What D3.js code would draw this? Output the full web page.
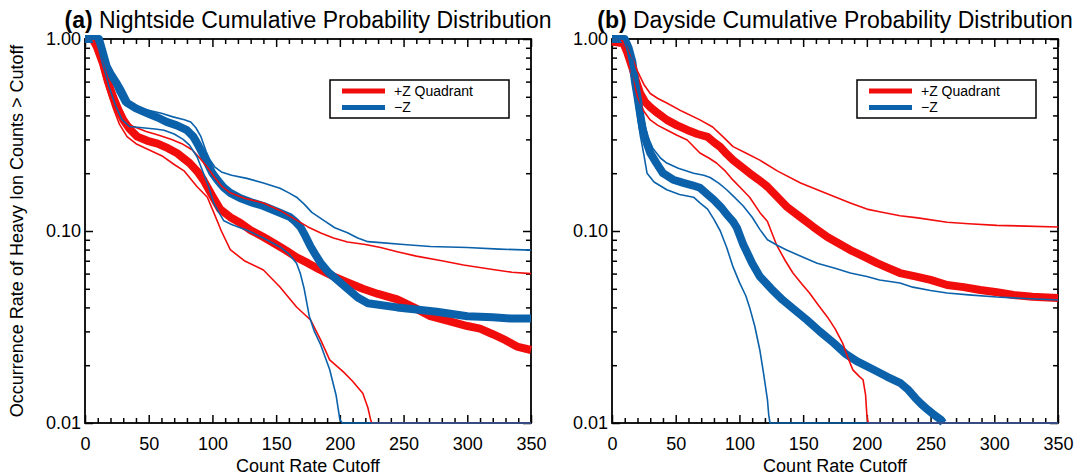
<!DOCTYPE html>
<html>
<head>
<meta charset="utf-8">
<script src="https://cdn.jsdelivr.net/npm/d3@7"></script>
<style>
  body { margin: 0; background: #fff; }
  svg { font-family: "Liberation Sans", Arial, Helvetica, sans-serif; }
  .tick line { stroke: #000; stroke-width: 1.5; }
  .frame { fill: none; stroke: #000; stroke-width: 1.8; }
  .series { fill: none; stroke-linejoin: round; stroke-linecap: butt; }
</style>
</head>
<body>
<svg class="chart"></svg>
<script>

// ---- data: [count rate cutoff, occurrence rate] ----
var countTicks = [0, 50, 100, 150, 200, 250, 300, 350];
var rateTicks = [0.01, 0.1, 1];
var legendLabels = ["+Z Quadrant", "\u2212Z"];

// (a) nightside, +Z quadrant
var nightPlusMid = [[0,1.0],[6,1.0],[9,0.92],[14,0.75],[18,0.6],[22,0.50],[26,0.43],[30,0.38],[35,0.34],[41,0.31],[49,0.295],[57,0.285],[65,0.27],[72,0.255],[77,0.24],[82,0.226],[88,0.205],[93,0.184],[100,0.152],[106,0.13],[114,0.118],[122,0.11],[130,0.101],[140,0.093],[150,0.085],[158,0.079],[166,0.073],[175,0.068],[184,0.063],[195,0.058],[206,0.054],[218,0.050],[230,0.047],[245,0.044],[258,0.040],[271,0.036],[285,0.034],[300,0.032],[310,0.031],[320,0.029],[330,0.027],[339,0.025],[350,0.024]];
var nightPlusHigh = [[0,1.0],[7,1.0],[10,0.9],[14,0.75],[18,0.62],[22,0.52],[26,0.44],[30,0.38],[38,0.35],[48,0.33],[58,0.315],[68,0.30],[76,0.285],[84,0.265],[90,0.24],[96,0.215],[101,0.193],[107,0.172],[114,0.158],[125,0.148],[140,0.14],[153,0.128],[166,0.114],[175,0.105],[185,0.0977],[195,0.092],[206,0.0877],[220,0.085],[232,0.082],[245,0.078],[260,0.074],[280,0.07],[297,0.0665],[320,0.063],[335,0.061],[350,0.06]];
var nightPlusLow = [[0,1.0],[6,1.0],[9,0.88],[13,0.7],[17,0.56],[22,0.44],[27,0.36],[33,0.31],[40,0.285],[50,0.265],[61,0.245],[70,0.222],[78,0.205],[88,0.17],[96,0.15],[101,0.125],[107,0.1],[114,0.08],[125,0.07],[140,0.0626],[153,0.0511],[166,0.0402],[177,0.0344],[185,0.027],[192,0.0213],[203,0.0184],[210,0.0165],[218,0.0143],[222,0.012],[224,0.0105],[225,0.01],[350,0.01]];

// (a) nightside, -Z quadrant
var nightMinusMid = [[0,1.0],[11,1.0],[14,0.85],[17,0.72],[20,0.66],[24,0.6],[28,0.54],[33,0.465],[40,0.435],[49,0.41],[57,0.39],[64,0.37],[72,0.355],[80,0.335],[85,0.31],[88,0.287],[92,0.255],[96,0.226],[100,0.2],[104,0.184],[109,0.168],[114,0.158],[122,0.148],[132,0.14],[140,0.135],[151,0.126],[161,0.118],[165,0.112],[169,0.105],[173,0.094],[177,0.083],[181,0.075],[185,0.068],[191,0.061],[198,0.0556],[206,0.05],[214,0.045],[222,0.042],[245,0.040],[260,0.039],[276,0.038],[300,0.036],[320,0.0355],[334,0.035],[350,0.035]];
var nightMinusHigh = [[0,1.0],[9,1.0],[12,0.9],[16,0.76],[20,0.65],[25,0.53],[30,0.46],[40,0.44],[49,0.427],[60,0.41],[69,0.393],[78,0.38],[83,0.37],[87,0.345],[91,0.31],[95,0.26],[98,0.235],[102,0.215],[107,0.203],[115,0.195],[127,0.188],[140,0.178],[153,0.167],[160,0.158],[166,0.15],[172,0.138],[178,0.125],[187,0.114],[196,0.104],[206,0.098],[214,0.092],[222,0.088],[232,0.087],[250,0.085],[271,0.083],[300,0.082],[325,0.0805],[350,0.0795]];
var nightMinusLow = [[0,1.0],[8,1.0],[11,0.88],[15,0.7],[19,0.56],[24,0.45],[29,0.38],[35,0.35],[45,0.345],[55,0.34],[62,0.335],[70,0.32],[77,0.3],[82,0.28],[88,0.243],[93,0.2],[97,0.17],[101,0.14],[105,0.125],[109,0.113],[115,0.108],[127,0.101],[140,0.092],[153,0.0826],[160,0.076],[166,0.068],[169,0.06],[172,0.05],[176,0.036],[180,0.03],[185,0.0255],[192,0.019],[197,0.014],[200,0.0104],[202,0.01],[350,0.01]];

// (b) dayside, +Z quadrant
var dayPlusMid = [[0,0.97],[9,0.95],[12,0.85],[16.5,0.69],[19,0.6],[22,0.523],[26,0.47],[30,0.442],[36,0.41],[43,0.379],[51,0.355],[59,0.336],[67,0.32],[75,0.309],[80,0.29],[85,0.274],[90,0.252],[95,0.234],[102,0.215],[108,0.2],[115,0.185],[122,0.17],[130,0.15],[137,0.134],[148,0.118],[158,0.105],[169,0.093],[178,0.086],[187,0.0796],[197,0.074],[208,0.068],[217,0.064],[226,0.0604],[238,0.058],[250,0.0556],[263,0.0523],[276,0.051],[289,0.0493],[302,0.048],[315,0.0464],[330,0.0455],[350,0.0448]];
var dayPlusHigh = [[0,1.0],[8,1.0],[12,0.9],[16.5,0.78],[20,0.68],[25,0.58],[30,0.52],[36,0.49],[43,0.464],[55,0.42],[69,0.379],[79,0.348],[87,0.31],[95,0.275],[105,0.255],[116,0.234],[130,0.205],[148,0.178],[165,0.16],[187,0.14],[200,0.13],[210,0.126],[226,0.12],[240,0.117],[263,0.111],[280,0.109],[302,0.107],[325,0.106],[350,0.105]];
var dayPlusLow = [[0,1.0],[7,1.0],[10,0.92],[13,0.75],[17,0.6],[20,0.5],[25,0.42],[30,0.379],[36,0.355],[43,0.336],[51,0.315],[59,0.298],[69,0.255],[76,0.24],[82,0.226],[89,0.205],[95,0.184],[102,0.165],[108,0.15],[116,0.125],[122,0.112],[129,0.085],[136,0.07],[142,0.0604],[149,0.053],[155,0.0475],[162,0.041],[169,0.0357],[175,0.031],[181,0.0261],[185,0.022],[189,0.0189],[194,0.0175],[197,0.0168],[199,0.014],[200,0.011],[201,0.01],[350,0.01]];

// (b) dayside, -Z quadrant
var dayMinusMid = [[0,1.0],[10,1.0],[13,0.9],[16,0.76],[18,0.6],[20,0.5],[22,0.41],[24,0.34],[27,0.29],[30,0.255],[35,0.225],[40,0.2],[48,0.185],[56,0.178],[63,0.173],[69,0.168],[75,0.155],[80,0.145],[86,0.132],[90,0.122],[95,0.112],[98,0.104],[103,0.085],[110,0.068],[116,0.058],[125,0.05],[134,0.0437],[143,0.039],[153,0.0344],[163,0.03],[174,0.0261],[183,0.023],[192,0.021],[205,0.019],[216,0.0174],[226,0.0162],[232,0.015],[238,0.0135],[243,0.0125],[248,0.0117],[253,0.011],[258,0.0104],[260,0.01]];
var dayMinusHigh = [[0,1.0],[10,1.0],[13,0.92],[16,0.8],[19,0.62],[22,0.48],[25,0.38],[28,0.31],[32,0.27],[38,0.24],[43,0.226],[52,0.212],[64,0.2],[72,0.195],[77,0.19],[84,0.177],[90,0.164],[96,0.15],[103,0.135],[110,0.118],[116,0.102],[122,0.09],[130,0.084],[137,0.0796],[150,0.073],[161,0.068],[175,0.064],[187,0.0604],[200,0.058],[210,0.0556],[226,0.0536],[236,0.051],[250,0.049],[263,0.0475],[280,0.0465],[302,0.0453],[325,0.0445],[350,0.0437]];
var dayMinusLow = [[0,1.0],[9,1.0],[12,0.88],[15,0.7],[18,0.5],[20,0.4],[22,0.32],[25,0.25],[27.5,0.2],[33,0.18],[43,0.164],[53,0.155],[64,0.15],[69,0.14],[75,0.13],[80,0.115],[85,0.1],[90,0.082],[95,0.065],[100,0.054],[105,0.046],[108,0.04],[112,0.032],[116,0.024],[119,0.018],[122,0.0132],[123,0.011],[124,0.01],[350,0.01]];

// ---- layout ----
var red = "#f20d0d", blue = "#0b62ab";
var thick = 8, thin = 1.6;
var plotWidth = 446, plotHeight = 384, plotTop = 39;

var panels = [
    {tag: "(a)", title: " Nightside Cumulative Probability Distribution", left: 85,
     plus: [nightPlusMid, nightPlusHigh, nightPlusLow], minus: [nightMinusMid, nightMinusHigh, nightMinusLow]},
    {tag: "(b)", title: " Dayside Cumulative Probability Distribution", left: 612,
     plus: [dayPlusMid, dayPlusHigh, dayPlusLow], minus: [dayMinusMid, dayMinusHigh, dayMinusLow]}
];

var svg = d3.select(".chart")
    .attr("width", 1089)
    .attr("height", 476);

var x = d3.scaleLinear().domain([0, 350]).range([0, plotWidth]);
var y = d3.scaleLog().domain([0.01, 1]).range([plotHeight, 0]);

var minorCounts = d3.range(0, 351, 10).filter(function(d) { return d % 50 !== 0; });
var minorRates = y.ticks().filter(function(d) { return rateTicks.indexOf(d) < 0; });

var line = d3.line()
    .x(function(d) { return x(d[0]); })
    .y(function(d) { return y(Math.max(d[1], 0.01)); });

function axis(g, gen) {
    g.call(gen);
    g.select(".domain").remove();
    g.attr("font-family", null).attr("font-size", 18);
    g.selectAll("text").attr("fill", "#000");
    return g;
}

panels.forEach(function(p) {

    var chart = svg.append("g")
        .attr("transform", "translate(" + p.left + "," + plotTop + ")");

    // ticks, all pointing inward
    axis(chart.append("g").attr("transform", "translate(0," + plotHeight + ")"),
        d3.axisBottom(x).tickValues(countTicks).tickSize(-8).tickPadding(14).tickFormat(d3.format("d")));
    axis(chart.append("g").attr("transform", "translate(0," + plotHeight + ")"),
        d3.axisBottom(x).tickValues(minorCounts).tickSize(-5).tickFormat(""));
    axis(chart.append("g"), d3.axisTop(x).tickValues(countTicks).tickSize(-8).tickFormat(""));
    axis(chart.append("g"), d3.axisTop(x).tickValues(minorCounts).tickSize(-5).tickFormat(""));

    axis(chart.append("g"),
        d3.axisLeft(y).tickValues(rateTicks).tickSize(-8).tickPadding(4).tickFormat(d3.format(".2f")));
    axis(chart.append("g"), d3.axisLeft(y).tickValues(minorRates).tickSize(-5).tickFormat(""));
    axis(chart.append("g").attr("transform", "translate(" + plotWidth + ",0)"),
        d3.axisRight(y).tickValues(rateTicks).tickSize(-8).tickFormat(""));
    axis(chart.append("g").attr("transform", "translate(" + plotWidth + ",0)"),
        d3.axisRight(y).tickValues(minorRates).tickSize(-5).tickFormat(""));

    chart.append("rect")
        .attr("class", "frame")
        .attr("width", plotWidth)
        .attr("height", plotHeight);

    // thick medians first, thin bounds over them
    var order = [
        {d: p.plus[0], c: red, w: thick},
        {d: p.minus[0], c: blue, w: thick},
        {d: p.plus[1], c: red, w: thin},
        {d: p.plus[2], c: red, w: thin},
        {d: p.minus[1], c: blue, w: thin},
        {d: p.minus[2], c: blue, w: thin}
    ];

    chart.selectAll(".series")
        .data(order)
        .enter().append("path")
        .attr("class", "series")
        .attr("d", function(s) { return line(s.d); })
        .style("stroke", function(s) { return s.c; })
        .style("stroke-width", function(s) { return s.w; });

    // legend
    var legend = chart.append("g").attr("transform", "translate(245,41)");
    legend.append("rect")
        .attr("width", 179).attr("height", 38)
        .attr("fill", "#fff").attr("stroke", "#000").attr("stroke-width", 1.5);
    legend.selectAll(".key")
        .data(legendLabels)
        .enter().append("line")
        .attr("x1", 12).attr("x2", 55)
        .attr("y1", function(d, i) { return 11 + i * 16.5; })
        .attr("y2", function(d, i) { return 11 + i * 16.5; })
        .attr("stroke", function(d, i) { return i ? blue : red; })
        .attr("stroke-width", 5);
    legend.selectAll(".label")
        .data(legendLabels)
        .enter().append("text")
        .attr("x", 64)
        .attr("y", function(d, i) { return 11 + i * 16.5; })
        .attr("dy", "0.35em")
        .attr("font-size", 14)
        .text(function(d) { return d; });

    // title
    var title = svg.append("text")
        .attr("x", p.left + plotWidth / 2)
        .attr("y", 28)
        .attr("text-anchor", "middle")
        .attr("font-size", 23);
    title.append("tspan").attr("font-weight", "bold").text(p.tag);
    title.append("tspan").text(p.title);

    svg.append("text")
        .attr("x", p.left + plotWidth / 2)
        .attr("y", 472)
        .attr("text-anchor", "middle")
        .attr("font-size", 18)
        .text("Count Rate Cutoff");
});

svg.append("text")
    .attr("transform", "translate(23," + (plotTop + plotHeight / 2) + ") rotate(-90)")
    .attr("text-anchor", "middle")
    .attr("font-size", 18)
    .text("Occurrence Rate of Heavy Ion Counts > Cutoff");

</script>
</body>
</html>
